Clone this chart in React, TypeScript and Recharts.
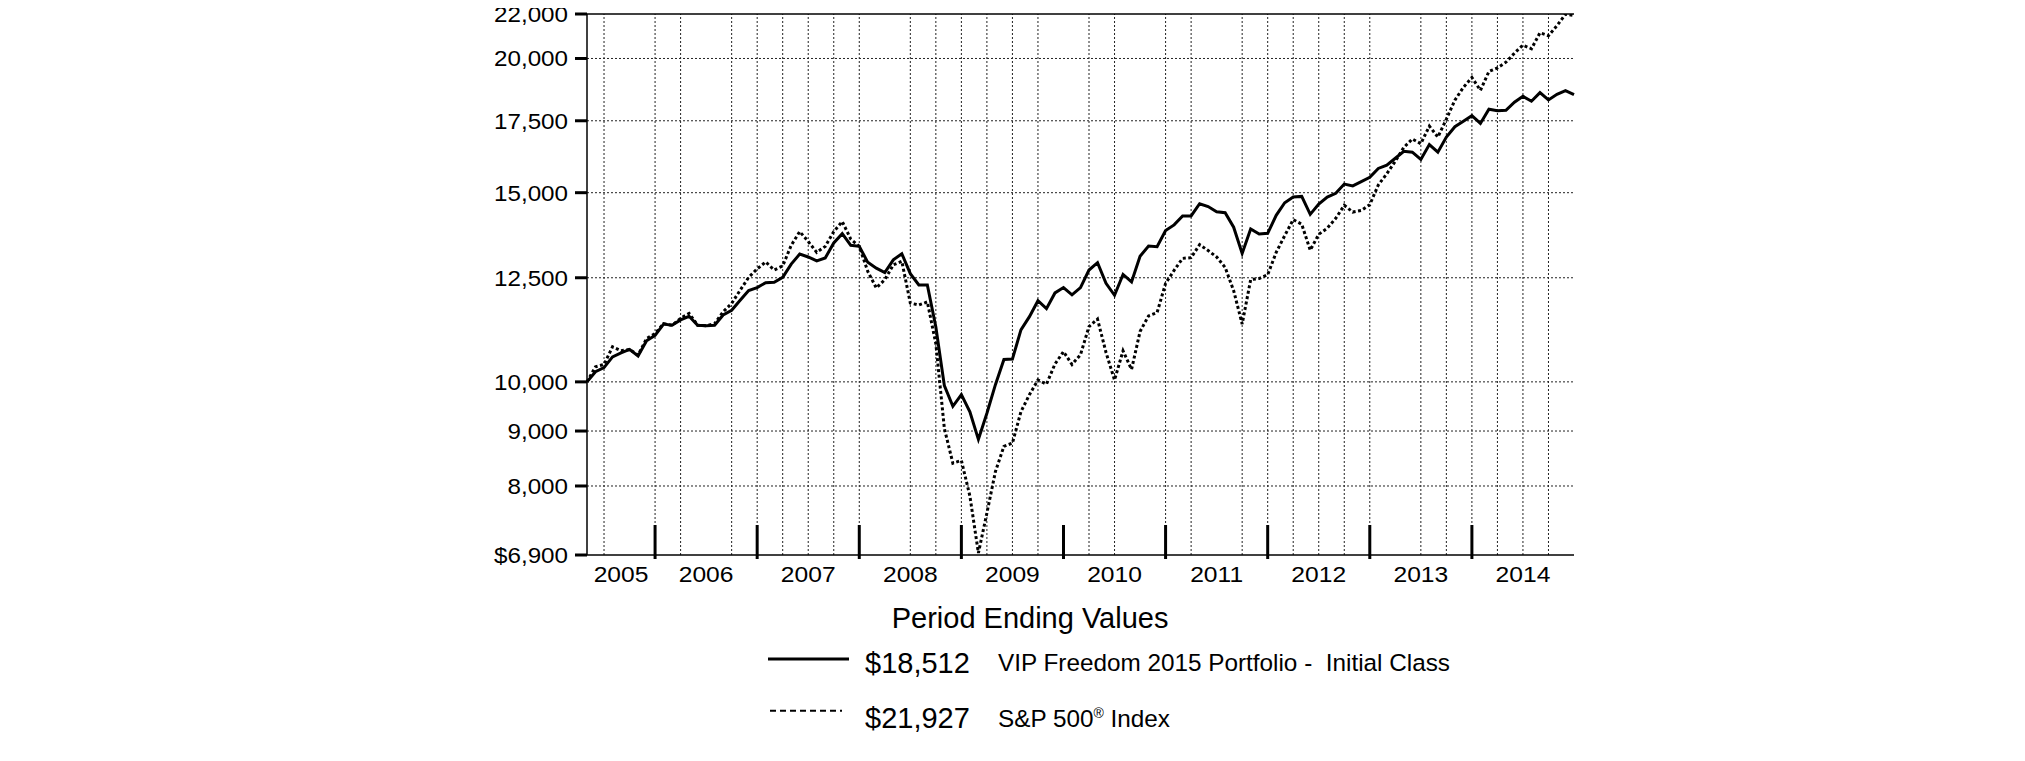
import React from "react";
import { LineChart, Line, XAxis, YAxis, ReferenceLine } from "recharts";

// one value per month end, index 0 = Apr 2005 ... 116 = Dec 2014
const portfolio = [
  10000, 10220, 10310, 10550, 10640, 10720, 10570, 10920, 11050, 11320,
  11290, 11420, 11510, 11290, 11280, 11290, 11540, 11660, 11910, 12160,
  12240, 12370, 12380, 12510, 12870, 13150, 13070, 12960, 13040, 13470,
  13740, 13400, 13370, 12920, 12760, 12640, 12990, 13160, 12610, 12310,
  12310, 11250, 9920, 9490, 9730, 9380, 8840, 9350, 9940, 10490,
  10500, 11180, 11500, 11900, 11700, 12100, 12240, 12050, 12240, 12710,
  12910, 12350, 12040, 12590, 12390, 13090, 13380, 13360, 13830, 14000,
  14270, 14270, 14650, 14560, 14400, 14370, 13930, 13170, 13880, 13730,
  13750, 14290, 14680, 14860, 14880, 14320, 14640, 14860, 14980, 15280,
  15220, 15360, 15500, 15800, 15910, 16150, 16390, 16360, 16110, 16630,
  16360, 16900, 17280, 17480, 17690, 17400, 17940, 17880, 17900, 18210,
  18440, 18250, 18590, 18300, 18520, 18670, 18512,
];

const sp500 = [
  10000, 10330, 10380, 10780, 10690, 10720, 10590, 10970, 11090, 11330,
  11290, 11460, 11580, 11290, 11280, 11330, 11620, 11830, 12170, 12510,
  12740, 12930, 12710, 12820, 13400, 13800, 13510, 13200, 13370, 13800,
  14100, 13580, 13370, 12670, 12230, 12450, 12850, 12950, 11840, 11790,
  11870, 10850, 9050, 8400, 8450, 7830, 6930, 7550, 8250, 8710,
  8770, 9380, 9730, 10040, 9950, 10390, 10670, 10380, 10600, 11260,
  11440, 10650, 10040, 10690, 10270, 11140, 11520, 11600, 12350, 12700,
  13030, 13050, 13420, 13250, 13070, 12780, 12160, 11320, 12450, 12480,
  12580, 13200, 13680, 14160, 14020, 13260, 13720, 13900, 14200, 14600,
  14390, 14440, 14620, 15250, 15620, 16050, 16530, 16830, 16660, 17300,
  16900, 17560, 18290, 18800, 19200, 18680, 19450, 19600, 19840, 20230,
  20580, 20420, 21130, 21000, 21460, 21990, 21927,
];

const yearLabels = ["2005", "2006", "2007", "2008", "2009", "2010", "2011", "2012", "2013", "2014"];
const yearMids = [4, 14, 26, 38, 50, 62, 74, 86, 98, 110];
const yearEnds = [8, 20, 32, 44, 56, 68, 80, 92, 104];
const gridMonths = [
  2, 8, 11, 17, 20, 23, 26, 29, 32, 38, 41, 44, 47, 50, 53, 59, 62, 68, 71,
  77, 80, 83, 86, 89, 92, 98, 101, 104, 107, 110, 113,
];
const yTicks = [6900, 8000, 9000, 10000, 12500, 15000, 17500, 20000, 22000];
const seriesNames = ["VIP Freedom 2015 Portfolio -  Initial Class", "S&P 500"];

const data = portfolio.map((v, i) => ({ t: i, portfolio: v, sp500: sp500[i] }));

const FONT = '"Liberation Sans", Arial, sans-serif';

const fmtY = (v: number) => (v === 6900 ? "$6,900" : v.toLocaleString("en-US"));
const fmtMoney = (v: number) => "$" + v.toLocaleString("en-US");

const YTick = (props: any) => {
  const { x, y, payload } = props;
  return (
    <g transform={`translate(${x},${y})`}>
      <text
        x={0}
        y={0}
        dy="0.36em"
        textAnchor="end"
        fontSize={22}
        fontFamily={FONT}
        fill="#000"
        transform="scale(1.1,1)"
      >
        {fmtY(payload.value)}
      </text>
    </g>
  );
};

const XTick = (props: any) => {
  const { x, y, payload } = props;
  const v = payload.value;
  if (yearEnds.includes(v)) {
    return <line x1={x} x2={x} y1={y - 30} y2={y + 4} stroke="#000" strokeWidth={3} />;
  }
  const idx = yearMids.indexOf(v);
  return (
    <g transform={`translate(${x},${y + 27})`}>
      <text x={0} y={0} textAnchor="middle" fontSize={22} fontFamily={FONT} fill="#000" transform="scale(1.12,1)">
        {yearLabels[idx]}
      </text>
    </g>
  );
};

export default function App() {
  const lastP = portfolio[portfolio.length - 1];
  const lastS = sp500[sp500.length - 1];
  return (
    <div style={{ position: "relative", top: -10, width: 2009, height: 755, background: "#fff" }}>
      <LineChart
        width={1600}
        height={610}
        data={data}
        margin={{ top: 16, right: 34, bottom: 0, left: 479 }}
      >
        <XAxis
          dataKey="t"
          type="number"
          domain={[0, 116]}
          ticks={[...yearEnds, ...yearMids]}
          interval={0}
          height={53}
          tickSize={0}
          tickMargin={0}
          tickLine={false}
          axisLine={{ stroke: "#000", strokeWidth: 1.5 }}
          tick={<XTick />}
        />
        <YAxis
          type="number"
          scale="log"
          domain={[6900, 22000]}
          allowDataOverflow
          ticks={yTicks}
          interval={0}
          width={100}
          tickSize={12}
          tickMargin={7}
          tickLine={{ stroke: "#000", strokeWidth: 3 }}
          axisLine={{ stroke: "#000", strokeWidth: 1.5 }}
          tick={<YTick />}
        />
        {yTicks
          .filter((v) => v !== 6900 && v !== 22000)
          .map((v) => (
            <ReferenceLine key={"h" + v} y={v} stroke="#222" strokeWidth={1} strokeDasharray="2 2" />
          ))}
        {gridMonths.map((m) => (
          <ReferenceLine key={"v" + m} x={m} stroke="#222" strokeWidth={1} strokeDasharray="2 2" />
        ))}
        <ReferenceLine y={22000} stroke="#000" strokeWidth={1.5} />
        <Line
          type="linear"
          dataKey="sp500"
          stroke="#000"
          strokeWidth={3}
          strokeDasharray="3 2.5"
          dot={false}
          isAnimationActive={false}
        />
        <Line
          type="linear"
          dataKey="portfolio"
          stroke="#000"
          strokeWidth={3}
          dot={false}
          isAnimationActive={false}
        />
      </LineChart>
      <svg
        width={2009}
        height={755}
        style={{ position: "absolute", left: 0, top: 0, pointerEvents: "none" }}
        fontFamily={FONT}
      >
        <text x={883.7} y={630.3} fontSize={29} fill="#000">Period Ending Values</text>
        <line x1={760} x2={841} y1={661} y2={661} stroke="#000" strokeWidth={3} />
        <text x={857} y={675.3} fontSize={29} fill="#000">{fmtMoney(lastP)}</text>
        <text x={990} y={672.7} fontSize={24.3} fill="#000" style={{ whiteSpace: "pre" }}>{seriesNames[0]}</text>
        <line x1={762} x2={834} y1={712.7} y2={712.7} stroke="#000" strokeWidth={2} strokeDasharray="6 4" />
        <text x={857} y={729.7} fontSize={29} fill="#000">{fmtMoney(lastS)}</text>
        <text x={990} y={728.7} fontSize={24.3} fill="#000">
          {seriesNames[1]}
          <tspan fontSize={14} dy={-9}>®</tspan>
          <tspan dy={9}> Index</tspan>
        </text>
      </svg>
    </div>
  );
}
